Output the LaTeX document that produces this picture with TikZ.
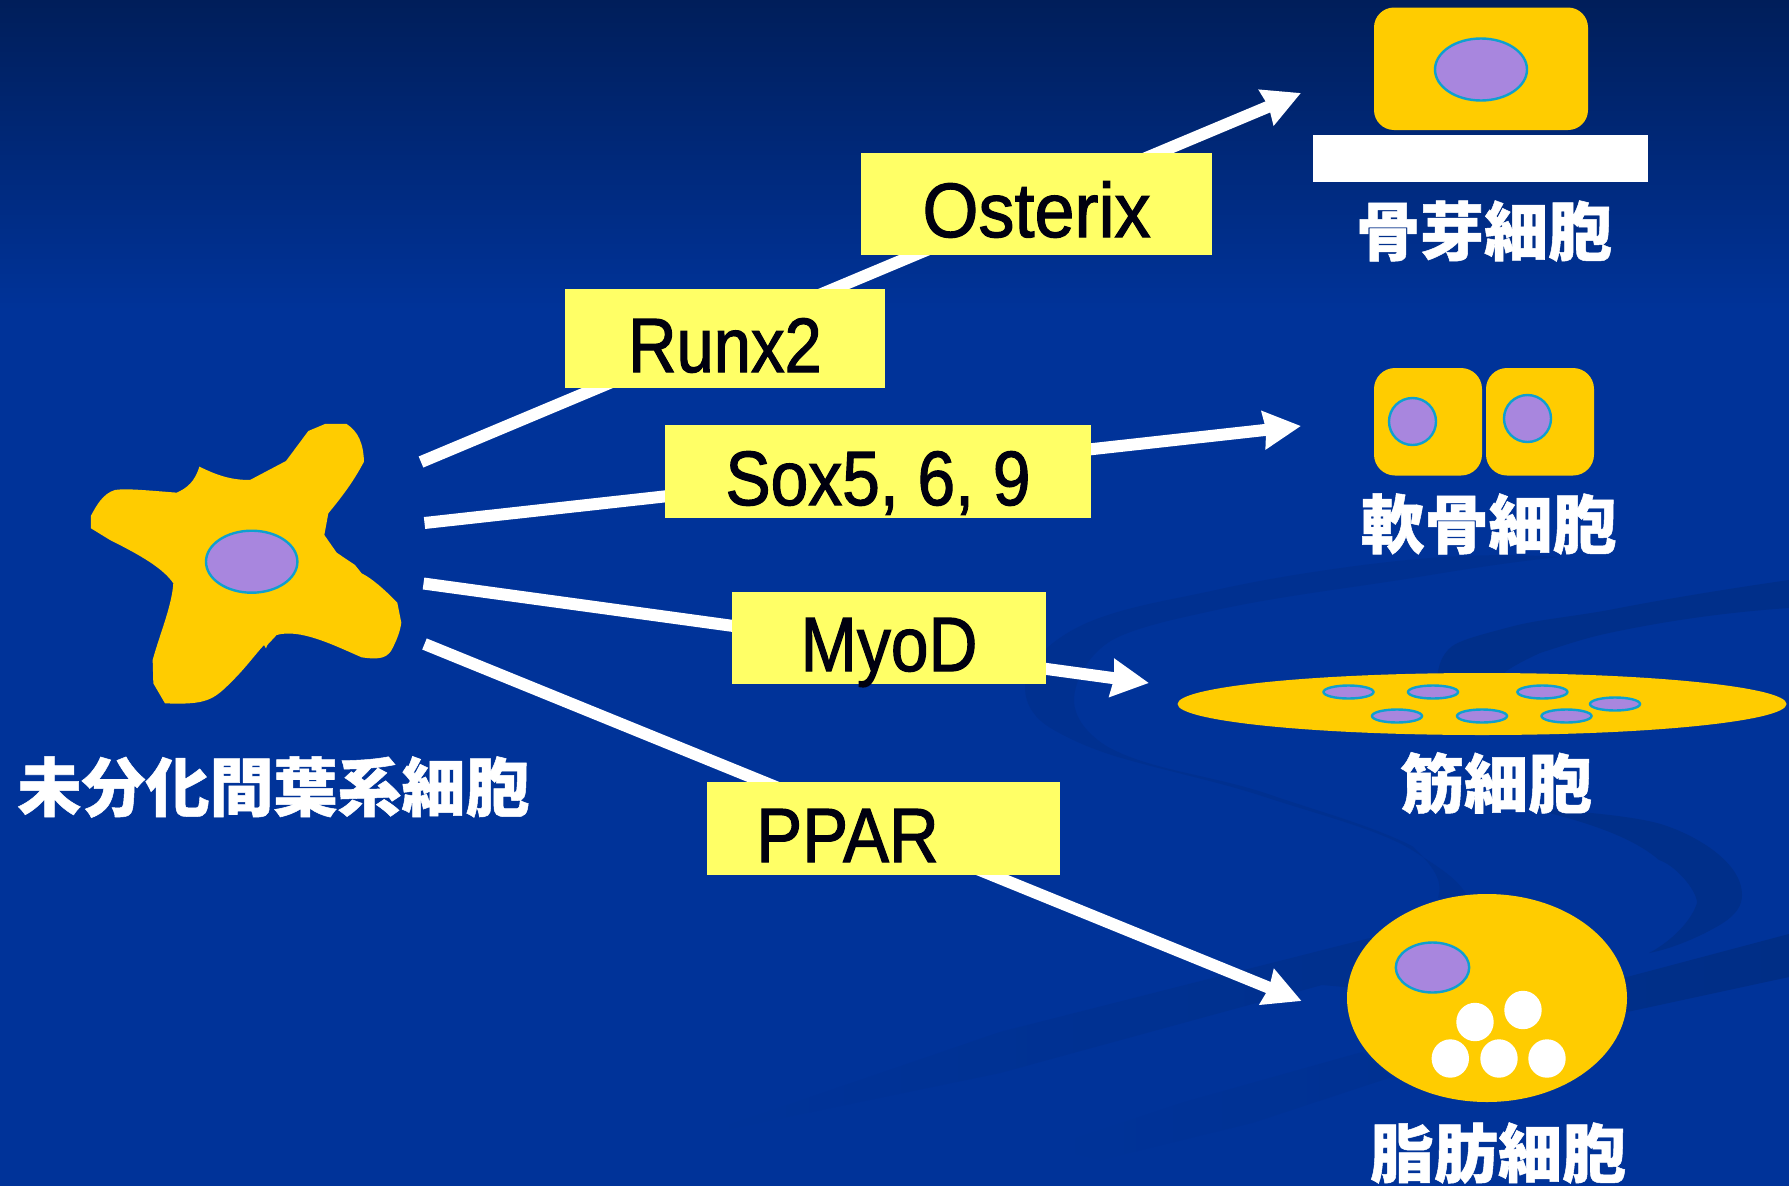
\documentclass[tikz,border=0pt]{standalone}
\usepackage{fontspec}
\usepackage{graphicx}
\usetikzlibrary{arrows.meta}
\newfontfamily\latinlabel[FakeBold=1.6]{Liberation Sans}
\newfontfamily\cjklabel[BoldFeatures={FakeBold=0.8}]{Noto Sans CJK JP}
\definecolor{deepblue}{HTML}{003399}
\definecolor{navytop}{HTML}{001E5A}
\definecolor{swoosh}{HTML}{002F8A}
\definecolor{swooshlight}{HTML}{003090}
\definecolor{swooshband}{HTML}{002E86}
\definecolor{swooshfaint}{HTML}{003192}
\definecolor{cellgold}{HTML}{FFCC00}
\definecolor{nucfill}{HTML}{A886DE}
\definecolor{nucline}{HTML}{0FA0CF}
\definecolor{tfyellow}{HTML}{FFFF66}
\definecolor{inkdark}{HTML}{00000F}
\tikzset{
  cellbody/.style={fill=cellgold,draw=none},
  nucleus/.style={fill=nucfill,draw=nucline,line width=2.4pt},
  droplet/.style={fill=white,draw=none},
  tfbox/.style={fill=tfyellow,draw=none,inner sep=0pt,text=inkdark,
    font=\latinlabel\fontsize{77}{80}\selectfont,align=center},
  celllabel/.style={text=white,inner sep=0pt,
    font=\cjklabel\bfseries\fontsize{64}{70}\selectfont},
  pathway/.style={draw=white,line width=12pt,
    -{Stealth[length=37pt,width=37pt,inset=2pt]}},
}
\newcommand{\squeezed}[2]{\scalebox{#1}[1]{#2}}
\begin{document}
\begin{tikzpicture}[x=1pt,y=-1pt]
\useasboundingbox (0,0) rectangle (1789,1186);
% backdrop
\fill[deepblue] (0,0) rectangle (1789,1186);
\shade[top color=navytop,bottom color=deepblue,draw=none] (0,0) rectangle (1789,310);
% darker swirls in the backdrop
\fill[swooshlight] (1560,557) .. controls (1480,552) and (1420,558) .. (1363,565)
  .. controls (1310,572) and (1260,580) .. (1216,590)
  .. controls (1170,600) and (1130,606) .. (1094,620)
  .. controls (1060,633) and (1025,660) .. (1025,687)
  .. controls (1025,705) and (1035,718) .. (1049,727)
  .. controls (1070,740) and (1095,750) .. (1118,757)
  .. controls (1170,772) and (1220,782) .. (1265,797)
  .. controls (1320,815) and (1380,830) .. (1412,850)
  .. controls (1440,868) and (1460,880) .. (1468,898)
  -- (1438,898)
  .. controls (1442,885) and (1440,872) .. (1412,846)
  .. controls (1370,825) and (1320,812) .. (1265,793)
  .. controls (1210,775) and (1150,770) .. (1108,747)
  .. controls (1088,735) and (1074,718) .. (1074,700)
  .. controls (1074,680) and (1090,650) .. (1118,637)
  .. controls (1145,625) and (1180,618) .. (1216,610)
  .. controls (1280,596) and (1350,588) .. (1412,578)
  .. controls (1460,570) and (1510,562) .. (1560,557) -- cycle;
\fill[swoosh] (1789,580) .. controls (1720,590) and (1660,600) .. (1609,610)
  .. controls (1570,617) and (1535,620) .. (1510,627)
  .. controls (1480,635) and (1460,640) .. (1451,647)
  .. controls (1442,655) and (1438,665) .. (1437,680)
  -- (1500,680) -- (1505,672)
  .. controls (1515,665) and (1525,660) .. (1540,653)
  .. controls (1565,645) and (1585,638) .. (1609,633)
  .. controls (1670,620) and (1730,612) .. (1789,608) -- cycle;
\fill[swoosh] (1525,807) .. controls (1580,812) and (1625,815) .. (1657,823)
  .. controls (1690,832) and (1742,860) .. (1742,895)
  .. controls (1742,915) and (1720,925) .. (1705,933)
  .. controls (1685,943) and (1665,950) .. (1649,953)
  .. controls (1665,945) and (1690,925) .. (1697,903)
  .. controls (1697,890) and (1675,865) .. (1659,860)
  .. controls (1630,835) and (1580,820) .. (1525,807) -- cycle;
\shade[left color=deepblue,middle color=swooshband,right color=swooshband]
  (1789,934) -- (1627,977) -- (1370,938) -- (1000,1032) -- (700,1135)
  -- (1000,1073) -- (1322,985) -- (1627,1012) -- (1789,977) -- cycle;
\shade[left color=deepblue,right color=swooshfaint]
  (1050,1147) -- (1181,1103) -- (1362,1052) -- (1392,1077) -- (1252,1123) -- (1100,1160) -- cycle;

% named ends of the four pathways
\coordinate (srcA) at (421,462);
\coordinate (srcB) at (424.5,523);
\coordinate (srcC) at (423.5,583.5);
\coordinate (srcD) at (424.5,644);
\coordinate (dstA) at (1301,93);
\coordinate (dstB) at (1301,426);
\coordinate (dstC) at (1149,683);
\coordinate (dstD) at (1301.6,1001);
\draw[pathway] (srcA) -- (dstA);
\draw[pathway] (srcB) -- (dstB);
\draw[pathway] (srcC) -- (dstC);
\draw[pathway] (srcD) -- (dstD);

% transcription factor labels
\node[tfbox,minimum width=351pt,text height=84pt,text depth=18pt] (osterix) at (1036.5,204) {\squeezed{0.935}{Osterix}};
\node[tfbox,minimum width=320pt,text height=83pt,text depth=16pt] (runx) at (725,338.5) {\squeezed{0.87}{Runx2}};
\node[tfbox,minimum width=426pt,text height=80pt,text depth=13pt] (sox) at (878,471.5) {\squeezed{0.88}{Sox5, 6, 9}};
\node[tfbox,minimum width=314pt,text height=79pt,text depth=13pt] (myod) at (889,638) {\squeezed{0.88}{MyoD}};
\node[tfbox,minimum width=353pt,text height=80pt,text depth=13pt] (ppar) at (883.5,828.5) {\squeezed{0.895}{PPAR}\hspace*{72pt}};

% undifferentiated cell
\begin{scope}[x=0.33333pt,y=-0.33333pt,shift={(180,1200)}]
\fill[cellgold] (93,347) -- (93,385) -- (150,420)
  .. controls (240,465) and (310,505) .. (340,550)
  .. controls (335,620) and (300,700) .. (278,780)
  -- (280,850) -- (315,910)
  .. controls (440,915) and (460,900) .. (515,845)
  .. controls (560,800) and (580,770) .. (612,735)
  -- (618,745) -- (622,735) -- (650,705)
  .. controls (720,685) and (820,735) .. (905,772)
  .. controls (960,780) and (985,775) .. (1000,740)
  .. controls (1012,715) and (1020,695) .. (1024,668)
  -- (1012,608)
  .. controls (970,565) and (935,535) .. (905,520)
  -- (885,495) -- (830,458) -- (793,405) -- (805,340)
  .. controls (850,285) and (880,245) .. (912,185)
  .. controls (910,130) and (895,95) .. (860,72)
  -- (795,72) -- (745,93) -- (678,183) -- (570,240)
  .. controls (510,240) and (470,225) .. (418,200)
  .. controls (405,245) and (380,265) .. (350,278)
  .. controls (250,270) and (195,265) .. (165,270)
  .. controls (130,280) and (110,315) .. (93,347) -- cycle;
\end{scope}
\draw[nucleus] (251.7,561.7) ellipse [x radius=45.7,y radius=31];

% osteoblast on its white bar
\fill[cellbody,rounded corners=20pt] (1374,7.5) rectangle (1588,130);
\draw[nucleus] (1481,69.5) ellipse [x radius=46,y radius=31];
\fill[white] (1313,135) rectangle (1648,182);

% two chondrocytes
\fill[cellbody,rounded corners=21pt] (1374,368) rectangle (1482,475.5);
\fill[cellbody,rounded corners=21pt] (1486,368) rectangle (1594,475.5);
\draw[nucleus] (1412.5,421.5) ellipse [x radius=23.5,y radius=23.5];
\draw[nucleus] (1527.5,418.5) ellipse [x radius=23.5,y radius=23.5];

% myotube with its row of nuclei
\fill[cellbody] (1482,704) ellipse [x radius=304.5,y radius=31];
\foreach \cx/\cy in {1348.5/692,1433/692,1542.4/692,1615/704,1397/716,1482/716,1566.5/716}
  \draw[nucleus] (\cx,\cy) ellipse [x radius=25,y radius=6.5];

% adipocyte with lipid droplets
\fill[cellbody] (1487,998) ellipse [x radius=140,y radius=104];
\draw[nucleus] (1432.5,967.5) ellipse [x radius=36.7,y radius=25];
\foreach \cx/\cy in {1475/1022,1523/1010,1450.3/1058.5,1499/1058.5,1547/1058.5}
  \fill[droplet] (\cx,\cy) ellipse [x radius=18.7,y radius=19.2];

% cell names
\node[celllabel] (msc) at (273.5,787) {未分化間葉系細胞};
\node[celllabel] (obl) at (1484,231) {骨芽細胞};
\node[celllabel] (chd) at (1488.5,524) {軟骨細胞};
\node[celllabel] (myo) at (1496,783) {筋細胞};
\node[celllabel] (adp) at (1498,1153) {脂肪細胞};
\end{tikzpicture}
\end{document}
